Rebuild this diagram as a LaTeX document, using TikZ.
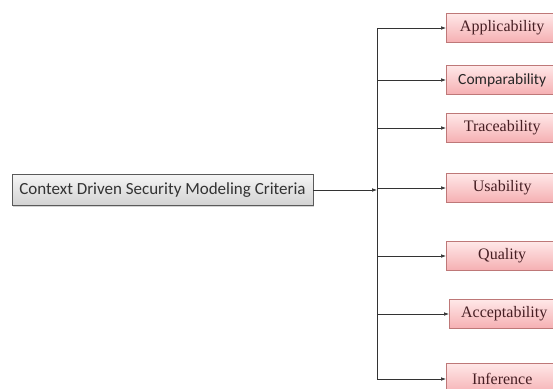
\documentclass[tikz,border=0pt]{standalone}
\usepackage{fontspec}
\setmainfont{Liberation Serif}
\newfontfamily\calibri{Carlito}
\usepackage{tikz}
\usetikzlibrary{arrows.meta,shadows}

\definecolor{pinkedge}{RGB}{190,120,120}
\definecolor{pinktop}{RGB}{255,232,232}
\definecolor{pinkbot}{RGB}{245,175,178}
\definecolor{labeltext}{RGB}{70,30,35}
\definecolor{grayedge}{RGB}{90,90,90}

\begin{document}
\begin{tikzpicture}[x=1pt,y=-1pt,
    criterion/.style={draw=pinkedge,top color=pinktop,bottom color=pinkbot,
      minimum width=112pt,minimum height=29pt,anchor=west,inner sep=0pt,
      text=labeltext,font=\fontsize{16}{18}\selectfont,
      drop shadow={shadow xshift=0.8pt,shadow yshift=-0.8pt,opacity=0.25}},
    mainbox/.style={draw=grayedge,top color=gray!8,bottom color=gray!35,
      minimum width=301pt,minimum height=31pt,inner sep=0pt,
      text=black!80,font=\calibri\fontsize{17}{20}\selectfont,
      drop shadow={shadow xshift=1pt,shadow yshift=-1pt,opacity=0.35}},
    branch/.style={-{Latex[length=5pt,width=3.6pt]},black!80,line width=0.6pt}]
      \clip (0,0) rectangle (553,388);
      % Main criterion
      \node[mainbox] (main) at (162.5,190) {Context Driven Security Modeling Criteria};
      % Criteria
      \node[criterion] (appl) at (446,28) {Applicability};
      \node[criterion,text=black!85,font=\calibri\fontsize{15.5}{18}\selectfont] (comp) at (446,80) {Comparability};
      \node[criterion] (trac) at (446,128) {Traceability};
      \node[criterion] (usab) at (446,188) {Usability};
      \node[criterion] (qual) at (446,256) {Quality};
      \node[criterion,minimum width=110pt] (acce) at (449,314) {Acceptability};
      \node[criterion,minimum height=32pt] (infe) at (446,379) {Inference};
      % Spine
      \coordinate (top) at (377,28);
      \coordinate (bot) at (377,379);
      \draw[black!80,line width=0.6pt] (top) -- (bot);
      \draw[branch] (main.east) -- (top |- main.east);
      % Branches
      \draw[branch] (top) -- (appl.west);
      \draw[branch] (top |- comp.west) -- (comp.west);
      \draw[branch] (top |- trac.west) -- (trac.west);
      \draw[branch] (top |- usab.west) -- (usab.west);
      \draw[branch] (top |- qual.west) -- (qual.west);
      \draw[branch] (top |- acce.west) -- (acce.west);
      \draw[branch] (bot) -- (infe.west);
\end{tikzpicture}
\end{document}
